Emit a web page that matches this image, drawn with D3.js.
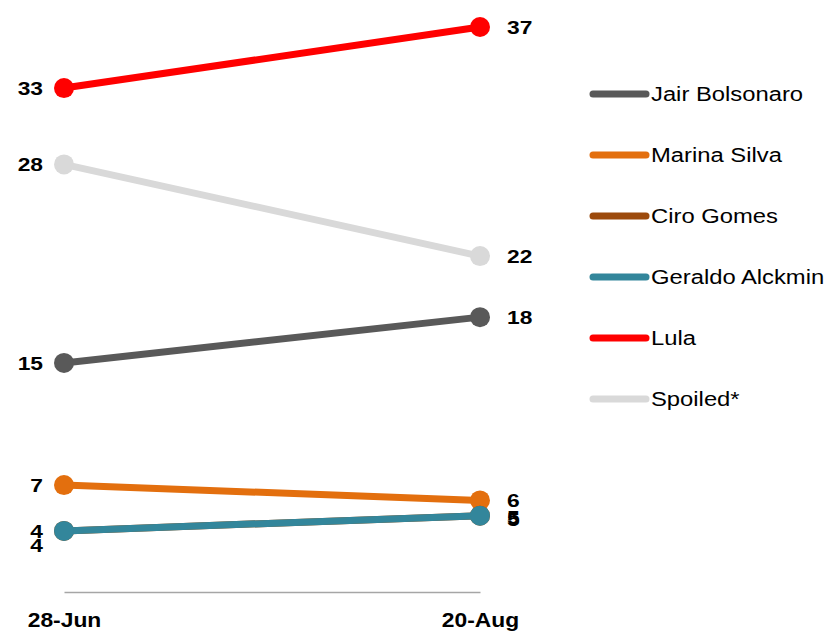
<!DOCTYPE html>
<html>
<head>
<meta charset="utf-8">
<script src="https://cdn.jsdelivr.net/npm/d3@7"></script>
<style>
  html, body { margin: 0; padding: 0; background: #fff; }
  svg { display: block; font-family: "Liberation Sans", Arial, sans-serif; }
</style>
</head>
<body>
<svg id="chart" width="831" height="634"></svg>
<script>
// Poll dates and candidates
const dates = ["28-Jun", "20-Aug"];
const candidates = ["Jair Bolsonaro", "Marina Silva", "Ciro Gomes", "Geraldo Alckmin", "Lula", "Spoiled*"];
const colors = ["#595959", "#E36F0E", "#9C4A0C", "#33869B", "#FF0000", "#D9D9D9"];

// Share of vote (%) at each date
const bolsonaro = [15, 18];
const marina = [7, 6];
const ciro = [4, 5];
const alckmin = [4, 5];
const lula = [33, 37];
const spoiled = [28, 22];

const seriesValues = [bolsonaro, marina, ciro, alckmin, lula, spoiled];

// Small vertical nudges so coinciding labels stay readable
const leftNudge = [0, 0, 0, 14, 0, 0];
const rightNudge = [0, 0, 2, 4, 0, 0];

// Text is set slightly wide
const STRETCH = 1.2;

const svg = d3.select("#chart");

const x = d3.scalePoint().domain(dates).range([64, 480]);
const y = d3.scaleLinear().domain([0, 37]).range([592, 27]);

// Baseline axis with date labels
const axis = svg.append("g")
  .attr("transform", `translate(0,${y(0)})`)
  .call(d3.axisBottom(x).tickSize(0).tickPadding(21));
axis.select(".domain").attr("stroke", "#A6A6A6").attr("stroke-width", 1.5);
axis.selectAll("text")
  .attr("font-family", "Liberation Sans, Arial, sans-serif")
  .attr("font-size", 19.5)
  .attr("font-weight", "bold")
  .attr("fill", "#000")
  .attr("transform", `scale(1.17,1)`);

const line = d3.line().x((d, i) => x(dates[i])).y(d => y(d));

// Draw in order: later candidates sit on top
const order = [5, 4, 0, 1, 2, 3];
const g = svg.append("g");
order.forEach(k => {
  const vals = seriesValues[k];
  const s = g.append("g");
  s.append("path")
    .datum(vals)
    .attr("d", line)
    .attr("fill", "none")
    .attr("stroke", colors[k])
    .attr("stroke-width", 7);
  s.selectAll("circle")
    .data(vals)
    .join("circle")
    .attr("cx", (d, i) => x(dates[i]))
    .attr("cy", d => y(d))
    .attr("r", 10)
    .attr("fill", colors[k]);
});

// Value labels at both ends
const labels = svg.append("g")
  .attr("font-size", 19)
  .attr("font-weight", "bold")
  .attr("fill", "#000");
function valueLabel(px, py, anchor, txt) {
  labels.append("g")
    .attr("transform", `translate(${px},${py}) scale(${STRETCH},1)`)
    .append("text")
    .attr("dy", "0.36em")
    .attr("text-anchor", anchor)
    .text(txt);
}
seriesValues.forEach((vals, k) => {
  valueLabel(x(dates[0]) - 21, y(vals[0]) + leftNudge[k], "end", vals[0]);
  valueLabel(x(dates[1]) + 27, y(vals[1]) + rightNudge[k], "start", vals[1]);
});

// Legend
const legend = svg.append("g").attr("transform", "translate(593,94)");
candidates.forEach((name, k) => {
  const row = legend.append("g").attr("transform", `translate(0,${k * 61})`);
  row.append("line")
    .attr("x1", 0).attr("x2", 53)
    .attr("stroke", colors[k])
    .attr("stroke-width", 7)
    .attr("stroke-linecap", "round");
  row.append("g")
    .attr("transform", `translate(58,0) scale(1.19,1)`)
    .append("text")
    .attr("dy", "0.35em")
    .attr("font-size", 20)
    .attr("fill", "#000")
    .text(name);
});
</script>
</body>
</html>
